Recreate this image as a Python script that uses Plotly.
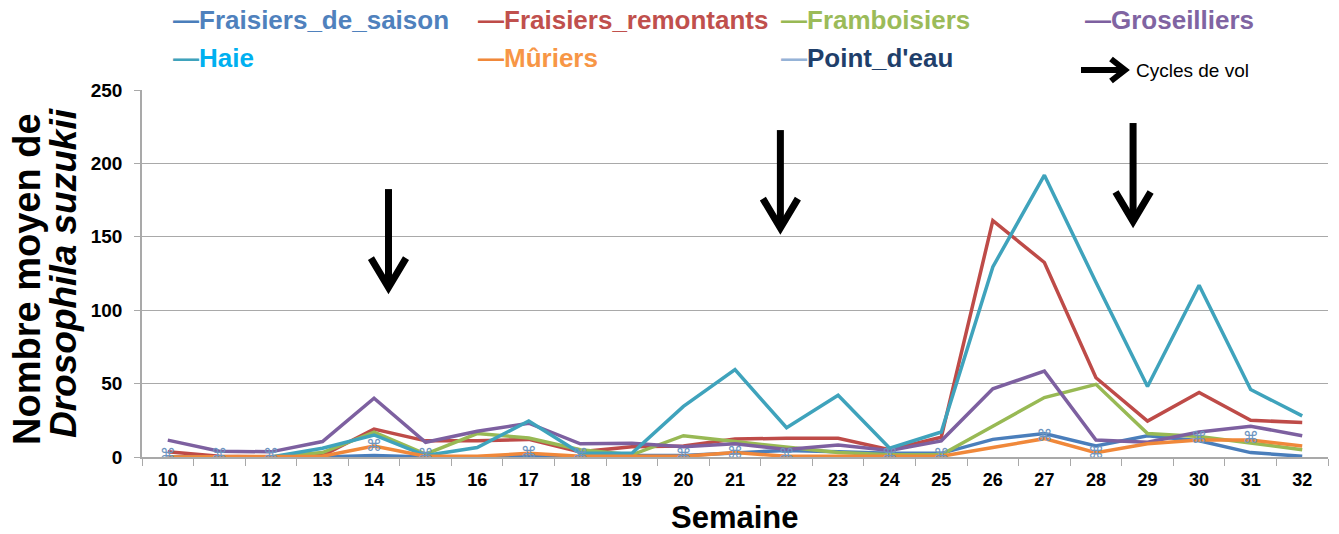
import plotly.graph_objects as go

# ---- data -------------------------------------------------------------
weeks = list(range(10, 33))

fraisiers_de_saison = [0, 0, 0, 0, 1, 0, 0, 1, 0, 1, 1, 3, 4.5, 3.5, 2.5, 2.5,
                       12, 16, 7.5, 14.5, 11, 3, 0.5]
fraisiers_remontants = [3.5, 0.5, 0, 1, 19, 11, 11, 12, 3.5, 7, 7.5, 12.3, 12.7, 12.7, 5, 13.5,
                        161, 132.5, 54, 24.5, 44, 25, 23.5]
framboisiers = [0, 0, 0, 3, 17, 2, 16, 13, 5, 1.5, 14.5, 10.5, 6.5, 3, 1.5, 1.5,
                21, 40.5, 49.5, 16, 14, 9.5, 5]
groseilliers = [11.5, 4, 3.5, 10.5, 40, 10, 17.5, 23, 9, 9.3, 7, 9, 5.2, 8.2, 4.5, 11,
                46.5, 58.5, 11.5, 10, 17, 21, 14.5]
haie = [0, 0, 0, 6, 15, 1, 6.5, 24.5, 2.5, 2.5, 34.5, 59.5, 20, 42, 6, 17,
        129.5, 192, 119, 48, 117, 46, 28]
muriers = [0, 0, 0, 0.5, 7.5, 0.5, 0.5, 2.5, 0.5, 0.5, 0.5, 3, 0.5, 0.5, 0.5, 0.5,
           6.5, 12.5, 3, 9, 11.5, 11.5, 7.5]
point_d_eau = [0.5, 0.5, 0.5, None, 7, 0.5, None, 2, 0.5, None, 1, 2, 0.5, None, 0.5, 0.5,
               None, 13.5, 2, None, 12, 12, None]

# weeks where a flight cycle starts (arrows), with arrow top / tip values
cycle_weeks = [14.28, 21.88, 28.72]
cycle_top = [182.5, 222.7, 227.5]
cycle_tip = [112.5, 153.0, 157.5]

series = [
    ("Fraisiers_de_saison", fraisiers_de_saison, "#4A7EBB"),
    ("Fraisiers_remontants", fraisiers_remontants, "#BE4B48"),
    ("Framboisiers", framboisiers, "#98B954"),
    ("Groseilliers", groseilliers, "#7D60A0"),
    ("Haie", haie, "#3FA3BC"),
    ("Mûriers", muriers, "#F0883A"),
]

# legend entries: (label, text colour, dash colour, left px, row centre px)
legend_items = [
    ("Fraisiers_de_saison", "#4F81BD", "#4A7EBB", 171, 20),
    ("Fraisiers_remontants", "#C0504D", "#BE4B48", 476, 20),
    ("Framboisiers", "#9BBB59", "#98B954", 779, 20),
    ("Groseilliers", "#8064A2", "#7D60A0", 1083, 20),
    ("Haie", "#00B0F0", "#3FA3BC", 171, 58),
    ("Mûriers", "#F79646", "#F0883A", 476, 58),
    ("Point_d'eau", "#1F3F6B", "#95B3D7", 779, 58),
]

W, H = 1339, 534
L, R, T, B = 142, 11, 90, 77
PW, PH = W - L - R, H - T - B


def px(x):
    return (x - L) / PW


def py(y):
    return (H - B - y) / PH


FONT = "Arial, Liberation Sans, sans-serif"
GRID = "#A9A9A9"

fig = go.Figure()
for name, vals, color in series:
    fig.add_trace(go.Scatter(x=weeks, y=vals, mode="lines", name=name,
                             line=dict(color=color, width=3.5), showlegend=False))

fig.add_trace(go.Scatter(
    x=weeks, y=point_d_eau, mode="text", name="Point_d'eau",
    text=["⌘" if v is not None else "" for v in point_d_eau],
    textposition="middle center",
    textfont=dict(family="DejaVu Sans", size=16, color="#6E95C0"),
    showlegend=False))

shapes = []
# flight-cycle arrows
dx = 0.34
for wx, yt, yp in zip(cycle_weeks, cycle_top, cycle_tip):
    shapes.append(dict(type="line", xref="x", yref="y", x0=wx, x1=wx, y0=yt, y1=yp + 3,
                       line=dict(color="black", width=7), layer="above"))
    shapes.append(dict(type="path", xref="x", yref="y",
                       path=f"M {wx - dx},{yp + 23} L {wx},{yp + 3} L {wx + dx},{yp + 23}",
                       line=dict(color="black", width=7), layer="above"))

# white patch behind the arrow legend entry
shapes.append(dict(type="rect", xref="paper", yref="paper",
                   x0=px(1077), x1=px(1269), y0=py(96), y1=py(48),
                   fillcolor="white", line=dict(width=0), layer="above"))
# arrow legend symbol
shapes.append(dict(type="line", xref="paper", yref="paper",
                   x0=px(1081), x1=px(1123), y0=py(70), y1=py(70),
                   line=dict(color="black", width=6), layer="above"))
shapes.append(dict(type="path", xref="paper", yref="paper",
                   path=f"M {px(1111)},{py(59)} L {px(1125)},{py(70)} L {px(1111)},{py(81)}",
                   line=dict(color="black", width=6), layer="above"))

annotations = []
for label, tcol, dcol, xl, yc in legend_items:
    annotations.append(dict(
        xref="paper", yref="paper", x=px(xl), y=py(yc), xanchor="left", yanchor="middle",
        showarrow=False,
        text=f"<span style='color:{dcol}'>—</span>{label}",
        font=dict(family=FONT, size=26, color=tcol, weight="bold")))

annotations.append(dict(xref="paper", yref="paper", x=px(1134), y=py(70),
                        xanchor="left", yanchor="middle", showarrow=False,
                        text="Cycles de vol",
                        font=dict(family=FONT, size=19, color="black")))

# axis titles
annotations.append(dict(xref="paper", yref="paper", x=0.5, y=py(517),
                        xanchor="center", yanchor="middle", showarrow=False,
                        text="Semaine",
                        font=dict(family=FONT, size=31, color="black", weight="bold")))
annotations.append(dict(xref="paper", yref="paper", x=px(27), y=py(279),
                        xanchor="center", yanchor="middle", showarrow=False, textangle=-90,
                        text="Nombre moyen de",
                        font=dict(family=FONT, size=38, color="black", weight="bold")))
annotations.append(dict(xref="paper", yref="paper", x=px(63), y=py(273),
                        xanchor="center", yanchor="middle", showarrow=False, textangle=-90,
                        text="<i>Drosophila suzukii</i>",
                        font=dict(family=FONT, size=37, color="black", weight="bold")))

fig.update_layout(
    width=W, height=H,
    margin=dict(l=L, r=R, t=T, b=B),
    paper_bgcolor="white", plot_bgcolor="white",
    shapes=shapes, annotations=annotations,
    xaxis=dict(
        range=[9.5, 32.5], tickvals=weeks, ticktext=[str(w) for w in weeks],
        ticks="", showgrid=False, zeroline=False,
        showline=True, linecolor=GRID, linewidth=1.5,
        tickfont=dict(family=FONT, size=18, color="black", weight="bold"),
        ticklabelstandoff=6,
        minor=dict(ticks="outside", ticklen=7, tick0=9.5, dtick=1, tickcolor=GRID,
                   tickwidth=1.3, showgrid=False),
    ),
    yaxis=dict(
        range=[0, 250], tickvals=[0, 50, 100, 150, 200, 250],
        ticks="outside", ticklen=6, tickcolor=GRID, tickwidth=1.3,
        showgrid=True, gridcolor=GRID, gridwidth=1.3, zeroline=False,
        showline=True, linecolor=GRID, linewidth=1.5,
        tickfont=dict(family=FONT, size=19, color="black", weight="bold"),
        ticklabelstandoff=8,
    ),
)

fig.write_html("out.html")
